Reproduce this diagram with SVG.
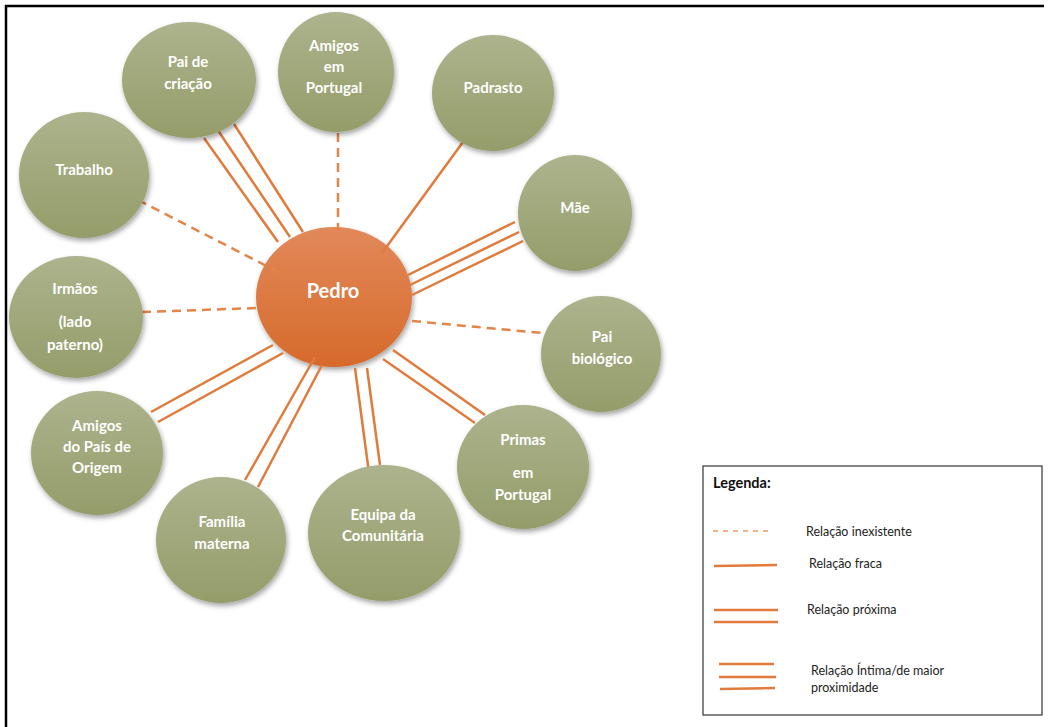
<svg xmlns="http://www.w3.org/2000/svg" width="1048" height="727" viewBox="0 0 1048 727">
<style>
.node-label{font-family:Lato,"Liberation Sans",sans-serif;font-weight:700;font-size:15px;fill:#ffffff;text-anchor:middle}
.center-label{font-family:Lato,"Liberation Sans",sans-serif;font-weight:700;font-size:20px;fill:#ffffff;text-anchor:middle}
.leg{font-family:Lato,"Liberation Sans",sans-serif;font-size:12.5px;fill:#222222}
.leg-title{font-family:Lato,"Liberation Sans",sans-serif;font-size:14.5px;font-weight:700;fill:#111111}
.solid{stroke:#e07b3c;stroke-width:2.5;fill:none}
.dash{stroke:#e3844a;stroke-width:2.5;fill:none;stroke-dasharray:9 6}
.green{fill:url(#gGreen);filter:url(#sh)}
</style>
<defs>
<linearGradient id="gGreen" x1="0" y1="0" x2="0" y2="1">
<stop offset="0" stop-color="#adb38d"/>
<stop offset="1" stop-color="#949d6a"/>
</linearGradient>
<linearGradient id="gOrange" x1="0" y1="0" x2="0" y2="1">
<stop offset="0" stop-color="#e2895a"/>
<stop offset="1" stop-color="#d66a2b"/>
</linearGradient>
<filter id="sh" x="-20%" y="-20%" width="140%" height="140%">
<feDropShadow dx="1.5" dy="3" stdDeviation="2.5" flood-color="#000" flood-opacity="0.35"/>
</filter>
</defs>
<rect x="0" y="0" width="1048" height="727" fill="#ffffff"/>
<g id="frame">
<path d="M6,727 V6 H1044" fill="none" stroke="#000" stroke-width="2.5"/>
</g>
<g id="node-pedro">
<ellipse cx="334" cy="297" rx="78" ry="70" fill="url(#gOrange)" filter="url(#sh)"/>
<text class="center-label" x="333" y="298">Pedro</text>
</g>
<g id="connectors">
<line class="solid" x1="204" y1="138" x2="278" y2="242"/>
<line class="solid" x1="217" y1="129" x2="290" y2="237"/>
<line class="solid" x1="234" y1="124" x2="303" y2="232"/>
<line class="dash" x1="338" y1="133" x2="338" y2="230"/>
<line class="dash" x1="138" y1="200" x2="286" y2="276"/>
<line class="solid" x1="463" y1="142" x2="382" y2="253"/>
<line class="solid" x1="515" y1="222" x2="408" y2="275"/>
<line class="solid" x1="519" y1="232" x2="410" y2="285"/>
<line class="solid" x1="523" y1="241" x2="412" y2="295"/>
<line class="dash" x1="412" y1="321" x2="542" y2="333"/>
<line class="solid" x1="393" y1="350" x2="485" y2="415"/>
<line class="solid" x1="383" y1="359" x2="475" y2="423"/>
<line class="solid" x1="355" y1="368" x2="369" y2="473"/>
<line class="solid" x1="367" y1="368" x2="380" y2="465"/>
<line class="solid" x1="315" y1="357" x2="245" y2="480"/>
<line class="solid" x1="322" y1="365" x2="258" y2="487"/>
<line class="solid" x1="273" y1="345" x2="151" y2="412"/>
<line class="solid" x1="283" y1="353" x2="158" y2="422"/>
<line class="dash" x1="142" y1="312" x2="258" y2="308"/>
</g>
<g id="node-pai-criacao">
<ellipse class="green" cx="189" cy="80" rx="67" ry="58"/>
<text class="node-label" x="188" y="67">Pai de</text>
<text class="node-label" x="188" y="89">criação</text>
</g>
<g id="node-amigos-portugal">
<ellipse class="green" cx="336" cy="72" rx="58" ry="60"/>
<text class="node-label" x="334" y="51">Amigos</text>
<text class="node-label" x="334" y="72">em</text>
<text class="node-label" x="334" y="93">Portugal</text>
</g>
<g id="node-padrasto">
<ellipse class="green" cx="493" cy="93" rx="61" ry="58"/>
<text class="node-label" x="493" y="93">Padrasto</text>
</g>
<g id="node-mae">
<ellipse class="green" cx="575" cy="213" rx="57" ry="58"/>
<text class="node-label" x="575" y="213">Mãe</text>
</g>
<g id="node-pai-biologico">
<ellipse class="green" cx="601" cy="354" rx="60" ry="58"/>
<text class="node-label" x="602" y="342">Pai</text>
<text class="node-label" x="602" y="364">biológico</text>
</g>
<g id="node-primas">
<ellipse class="green" cx="523" cy="467" rx="66" ry="62"/>
<text class="node-label" x="523" y="445">Primas</text>
<text class="node-label" x="523" y="478">em</text>
<text class="node-label" x="523" y="500">Portugal</text>
</g>
<g id="node-equipa">
<ellipse class="green" cx="384" cy="533" rx="76" ry="68"/>
<text class="node-label" x="383" y="520">Equipa da</text>
<text class="node-label" x="383" y="541">Comunitária</text>
</g>
<g id="node-familia">
<ellipse class="green" cx="221" cy="540" rx="65" ry="63"/>
<text class="node-label" x="222" y="527">Família</text>
<text class="node-label" x="222" y="549">materna</text>
</g>
<g id="node-amigos-pais">
<ellipse class="green" cx="97" cy="453" rx="66" ry="62"/>
<text class="node-label" x="97" y="431">Amigos</text>
<text class="node-label" x="97" y="452">do País de</text>
<text class="node-label" x="97" y="473">Origem</text>
</g>
<g id="node-irmaos">
<ellipse class="green" cx="76" cy="317" rx="67" ry="61"/>
<text class="node-label" x="75" y="294">Irmãos</text>
<text class="node-label" x="75" y="327">(lado</text>
<text class="node-label" x="75" y="350">paterno)</text>
</g>
<g id="node-trabalho">
<ellipse class="green" cx="84" cy="175" rx="65" ry="63"/>
<text class="node-label" x="84" y="175">Trabalho</text>
</g>
<g id="legend">
<rect x="703" y="466" width="339" height="249" fill="#ffffff" stroke="#333" stroke-width="1.2"/>
<text class="leg-title" x="713" y="488">Legenda:</text>
<line x1="713" y1="531" x2="771" y2="531" stroke="#f4b48a" stroke-width="2" stroke-dasharray="5 5"/>
<text class="leg" x="806" y="536">Relação inexistente</text>
<line x1="714" y1="566" x2="777" y2="565" class="solid"/>
<text class="leg" x="809" y="568">Relação fraca</text>
<line x1="714" y1="610" x2="778" y2="610" class="solid"/>
<line x1="714" y1="622" x2="778" y2="622" class="solid"/>
<text class="leg" x="807" y="614">Relação próxima</text>
<line x1="719" y1="664" x2="774" y2="664" class="solid"/>
<line x1="719" y1="677" x2="776" y2="677" class="solid"/>
<line x1="720" y1="689" x2="775" y2="688" class="solid"/>
<text class="leg" x="811" y="675">Relação Íntima/de maior</text>
<text class="leg" x="811" y="692">proximidade</text>
</g>
</svg>
